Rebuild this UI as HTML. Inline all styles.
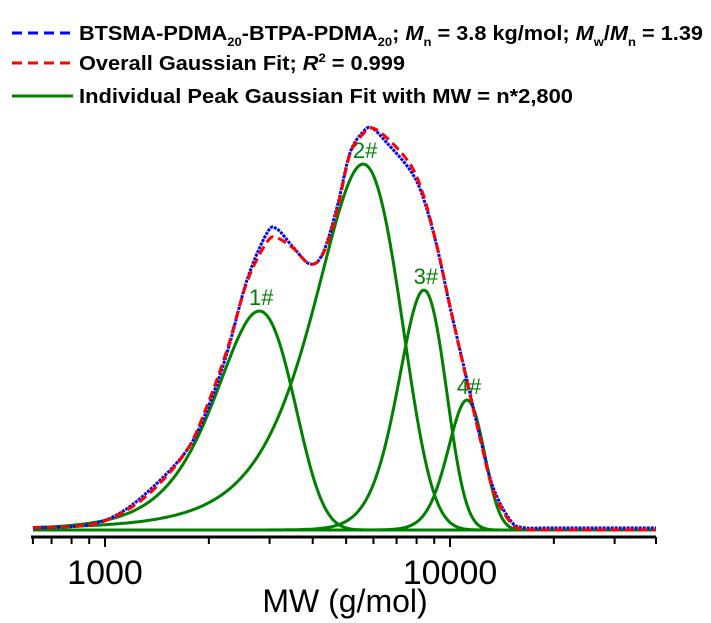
<!DOCTYPE html>
<html><head><meta charset="utf-8"><style>
html,body{margin:0;padding:0;background:#fff;}
svg{display:block;font-family:"Liberation Sans",Arial,sans-serif;}
</style></head><body>
<svg id="chart" width="711" height="623" viewBox="0 0 711 623" xmlns="http://www.w3.org/2000/svg">
<g id="legend">
 <g>
  <line x1="12" y1="33" x2="73" y2="33" stroke="#0000ff" stroke-width="3" stroke-dasharray="10,6"/>
  <text x="79" y="40" font-size="20" font-weight="bold" textLength="624" lengthAdjust="spacingAndGlyphs">BTSMA-PDMA<tspan font-size="12" dy="6">20</tspan><tspan dy="-6">-BTPA-PDMA</tspan><tspan font-size="12" dy="6">20</tspan><tspan dy="-6">; </tspan><tspan font-style="italic">M</tspan><tspan font-size="12" dy="6">n</tspan><tspan dy="-6"> = 3.8 kg/mol; </tspan><tspan font-style="italic">M</tspan><tspan font-size="12" dy="6">w</tspan><tspan dy="-6">/</tspan><tspan font-style="italic">M</tspan><tspan font-size="12" dy="6">n</tspan><tspan dy="-6"> = 1.39</tspan></text>
 </g>
 <g>
  <line x1="12" y1="63" x2="73" y2="63" stroke="#ff0000" stroke-width="3" stroke-dasharray="10,6"/>
  <text x="79" y="70" font-size="20" font-weight="bold" textLength="326" lengthAdjust="spacingAndGlyphs">Overall Gaussian Fit; <tspan font-style="italic">R</tspan><tspan font-size="12" dy="-8">2</tspan><tspan dy="8"> = 0.999</tspan></text>
 </g>
 <g>
  <line x1="12" y1="96" x2="73" y2="96" stroke="#008000" stroke-width="3"/>
  <text x="79" y="103" font-size="20" font-weight="bold" textLength="494" lengthAdjust="spacingAndGlyphs">Individual Peak Gaussian Fit with MW = n*2,800</text>
 </g>
</g>
<g id="plot"></g>
<g id="axis"></g>
<text x="345" y="612" font-size="32" text-anchor="middle">MW (g/mol)</text>
</svg>
<script>
// data
const expMW = [618,887,1105,1378,1729,1975,2258,2580,2948,3152,3507,3928,4285,4706,5129,5595,5940,6568,7656,8353,9171,10000,11200,12220,13320,14930,16280,20000,39550];
const expInt = [0.005,0.0125,0.0425,0.1075,0.2,0.3,0.4425,0.625,0.7425,0.7525,0.7075,0.665,0.6925,0.8075,0.9425,0.995,1.005,0.9675,0.9,0.8325,0.7075,0.5575,0.375,0.2325,0.1075,0.025,0.006,0.005,0.005];
const fitMW = [618,887,1105,1378,1729,1975,2258,2580,2948,3152,3507,3928,4285,4706,5129,5595,5940,6568,7656,8353,9171,10000,11200,12220,13320,14930,16280,20000,39550];
const fitInt = [0.006,0.012,0.04,0.1,0.2,0.31,0.45,0.62,0.72,0.73,0.705,0.665,0.69,0.8,0.94,0.99,1.005,0.98,0.915,0.84,0.71,0.56,0.37,0.23,0.1,0.02,0.002,0,0];
const peakLabels = ["1#","2#","3#","4#"];
const peakCenters = [2800,5600,8400,11200];
const peakAmps = [0.5475,0.915,0.6,0.325];
const peakSigmas = [720,1580,1320,1350];
const majorTicks = [1000,10000];
const majorTickLabels = ["1000","10000"];
const minorTicks = [618,700,800,900,2000,3000,4000,5000,6000,7000,8000,9000,20000,30000,39550];

const NS="http://www.w3.org/2000/svg";
const X0=31, X1=656, Y0=530, YS=400;
const xS = m => 105 + 345*Math.log10(m/1000);
const yS = v => Y0 - v*YS;
function mk(tag, attrs, parent){const e=document.createElementNS(NS,tag);for(const k in attrs)e.setAttribute(k,attrs[k]);parent.appendChild(e);return e;}
function smooth(pts){
  let d="M"+pts[0][0].toFixed(1)+","+pts[0][1].toFixed(1);
  for(let i=0;i<pts.length-1;i++){
    const p0=pts[Math.max(0,i-1)],p1=pts[i],p2=pts[i+1],p3=pts[Math.min(pts.length-1,i+2)];
    const c1=[p1[0]+(p2[0]-p0[0])/6,p1[1]+(p2[1]-p0[1])/6];
    const c2=[p2[0]-(p3[0]-p1[0])/6,p2[1]-(p3[1]-p1[1])/6];
    d+=" C"+c1[0].toFixed(1)+","+c1[1].toFixed(1)+" "+c2[0].toFixed(1)+","+c2[1].toFixed(1)+" "+p2[0].toFixed(1)+","+p2[1].toFixed(1);
  }
  return d;
}
const plot=document.getElementById('plot');
peakCenters.forEach((c,i)=>{
  const pts=[];
  for(let x=33;x<=656;x+=2){
    const m=1000*Math.pow(10,(x-105)/345);
    const v=peakAmps[i]*Math.exp(-Math.pow(m-c,2)/(2*peakSigmas[i]*peakSigmas[i]));
    pts.push([x,yS(v)]);
  }
  const p=mk('path',{d:"M"+pts.map(p=>p[0]+","+p[1].toFixed(1)).join(" L"),fill:"none",stroke:"#008000","stroke-width":3},plot);
  
  
  const t=mk('text',{x:xS(c)+2,y:yS(peakAmps[i])-6,"font-size":22,fill:"#008000","text-anchor":"middle"},plot);
  t.textContent=peakLabels[i];
  
  
});
const ex=mk('path',{d:smooth(expMW.map((m,i)=>[xS(m),yS(expInt[i])])),fill:"none",stroke:"#0000ff","stroke-width":3,"stroke-dasharray":"3,1"},plot);


const ft=mk('path',{d:smooth(fitMW.map((m,i)=>[xS(m),yS(fitInt[i])])),fill:"none",stroke:"#ff0000","stroke-width":3,"stroke-dasharray":"9,5"},plot);


const ax=document.getElementById('axis');
const al=mk('line',{x1:X0,y1:537,x2:X1,y2:537,stroke:"#000","stroke-width":3},ax);


minorTicks.forEach(m=>{
  const t=mk('line',{x1:xS(m),y1:537,x2:xS(m),y2:544,stroke:"#000","stroke-width":2},ax);
  
  
});
majorTicks.forEach((m,i)=>{
  const t=mk('line',{x1:xS(m),y1:537,x2:xS(m),y2:547,stroke:"#000","stroke-width":2},ax);
  
  
  const l=mk('text',{x:xS(m),y:584,"font-size":34,"text-anchor":"middle"},ax);
  l.textContent=majorTickLabels[i];
  
  
});
</script>
</body></html>
